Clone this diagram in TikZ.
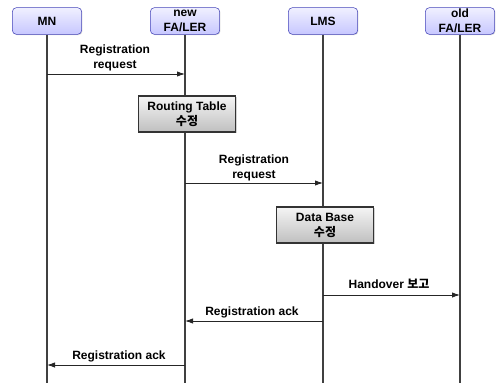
\documentclass[tikz,border=0pt]{standalone}
\usepackage{fontspec}
\setmainfont{Liberation Sans}
\newfontfamily\krfont{Noto Sans CJK KR}
\usetikzlibrary{arrows.meta,shadows}
\begin{document}
\begin{tikzpicture}[x=0.75pt,y=-0.75pt,
  every node/.style={font=\fontsize{9}{11.25}\selectfont\bfseries},
  actor/.style={draw=blue!45!gray, rounded corners=3pt, minimum width=52pt, minimum height=20pt,
    top color=blue!6, bottom color=blue!22!white, inner sep=1pt, align=center,
    drop shadow={shadow xshift=0.6pt, shadow yshift=-0.6pt, opacity=0.3}},
  action/.style={draw=black!80, thick, minimum width=73pt, minimum height=27pt, align=center,
    top color=black!4, bottom color=black!25, inner sep=1pt,
    drop shadow={shadow xshift=1pt, shadow yshift=-1pt, opacity=0.35}},
  lifeline/.style={draw=black!75, line width=1.6pt},
  msg/.style={draw=black!85, line width=0.6pt, -{Latex[length=6pt,width=4pt]}},
  lbl/.style={align=center, inner sep=0pt}
]
\useasboundingbox (0,0) rectangle (496,385);

% participants
\node[actor] (mn)  at (47,21)  {MN};
\node[actor] (nfa) at (185,21) {new\\FA/LER};
\node[actor] (lms) at (323,21) {LMS};
\node[actor] (ofa) at (460,21) {old\\FA/LER};

% lifeline ends
\coordinate (mnE)  at (47,383);
\coordinate (nfaE) at (185,383);
\coordinate (lmsE) at (323,383);
\coordinate (ofaE) at (460,383);

\begin{scope}[on background layer/.try]
\draw[lifeline] (mn.south) -- (mnE);
\draw[lifeline] (nfa.south) -- (nfaE);
\draw[lifeline] (lms.south) -- (lmsE);
\draw[lifeline] (ofa.south) -- (ofaE);
\end{scope}

% processing steps
\node[action] (rt) at (187,114) {Routing Table\\{\krfont 수정}};
\node[action] (db) at (325,225) {Data Base\\{\krfont 수정}};

% message anchor points
\coordinate (m1a) at (47,74);   \coordinate (m1b) at (185,74);
\coordinate (m2a) at (185,183); \coordinate (m2b) at (323,183);
\coordinate (m3a) at (323,295); \coordinate (m3b) at (460,295);
\coordinate (m4a) at (323,321); \coordinate (m4b) at (185,321);
\coordinate (m5a) at (185,365); \coordinate (m5b) at (47,365);

\draw[msg] (m1a) -- (m1b);
\draw[msg] (m2a) -- (m2b);
\draw[msg] (m3a) -- (m3b);
\draw[msg] (m4a) -- (m4b);
\draw[msg] (m5a) -- (m5b);

% message labels
\node[lbl] (l1) at (115,58)  {Registration\\request};
\node[lbl] (l2) at (254,168) {Registration\\request};
\node[lbl] (l3) at (389,284) {Handover {\krfont 보고}};
\node[lbl] (l4) at (252,312) {Registration ack};
\node[lbl] (l5) at (119,356) {Registration ack};
\end{tikzpicture}
\end{document}
